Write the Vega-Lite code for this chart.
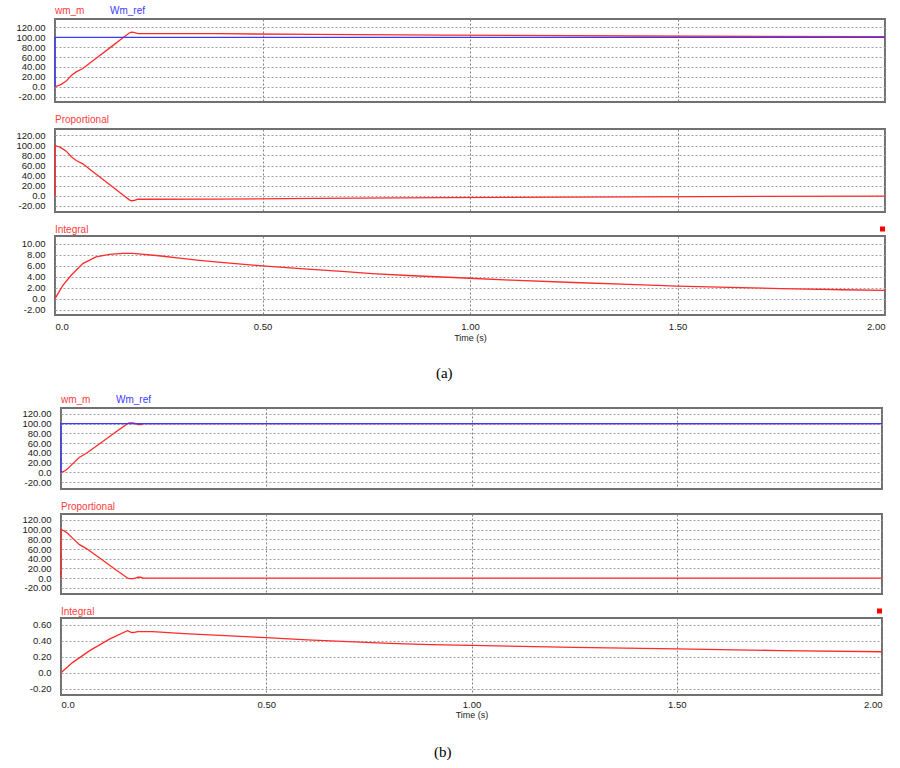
{
  "$schema": "https://vega.github.io/schema/vega-lite/v6.json",
  "background": "white",
  "padding": {"left": 0, "top": 5, "right": 0, "bottom": 0},
  "spacing": 13,
  "columns": 1,
  "align": "none",
  "datasets": {
    "a1": [
      {"i": 0, "s": "wm_m", "t": 0, "v": 0},
      {"i": 1, "s": "wm_m", "t": 0.008, "v": 2},
      {"i": 2, "s": "wm_m", "t": 0.015, "v": 4.7},
      {"i": 3, "s": "wm_m", "t": 0.027, "v": 11.3},
      {"i": 4, "s": "wm_m", "t": 0.04, "v": 23},
      {"i": 5, "s": "wm_m", "t": 0.051, "v": 30},
      {"i": 6, "s": "wm_m", "t": 0.067, "v": 36.7},
      {"i": 7, "s": "wm_m", "t": 0.1, "v": 57.9},
      {"i": 8, "s": "wm_m", "t": 0.14, "v": 83.6},
      {"i": 9, "s": "wm_m", "t": 0.163, "v": 98.4},
      {"i": 10, "s": "wm_m", "t": 0.179, "v": 108.7},
      {"i": 11, "s": "wm_m", "t": 0.184, "v": 110.5},
      {"i": 12, "s": "wm_m", "t": 0.19, "v": 110},
      {"i": 13, "s": "wm_m", "t": 0.2, "v": 107.5},
      {"i": 14, "s": "wm_m", "t": 0.388, "v": 107.2},
      {"i": 15, "s": "wm_m", "t": 0.626, "v": 105.8},
      {"i": 16, "s": "wm_m", "t": 0.94, "v": 104.2},
      {"i": 17, "s": "wm_m", "t": 1.404, "v": 102.6},
      {"i": 18, "s": "wm_m", "t": 2.0, "v": 101.3},
      {"i": 0, "s": "Wm_ref", "t": 0, "v": 0},
      {"i": 1, "s": "Wm_ref", "t": 0, "v": 100},
      {"i": 2, "s": "Wm_ref", "t": 2.0, "v": 100}
    ],
    "a2": [
      {"i": 0, "t": 0, "v": 0},
      {"i": 1, "t": 0, "v": 100},
      {"i": 2, "t": 0.008, "v": 98},
      {"i": 3, "t": 0.015, "v": 95.3},
      {"i": 4, "t": 0.027, "v": 88.7},
      {"i": 5, "t": 0.04, "v": 77},
      {"i": 6, "t": 0.051, "v": 70},
      {"i": 7, "t": 0.067, "v": 63.3},
      {"i": 8, "t": 0.1, "v": 42.1},
      {"i": 9, "t": 0.14, "v": 16.4},
      {"i": 10, "t": 0.163, "v": 1.6},
      {"i": 11, "t": 0.179, "v": -8.7},
      {"i": 12, "t": 0.184, "v": -10.5},
      {"i": 13, "t": 0.19, "v": -10},
      {"i": 14, "t": 0.2, "v": -7.5},
      {"i": 15, "t": 0.388, "v": -7.2},
      {"i": 16, "t": 0.626, "v": -5.8},
      {"i": 17, "t": 0.94, "v": -4.2},
      {"i": 18, "t": 1.404, "v": -2.6},
      {"i": 19, "t": 2.0, "v": -1.3}
    ],
    "a3": [
      {"t": 0, "v": 0},
      {"t": 0.019, "v": 2.4},
      {"t": 0.039, "v": 4.24},
      {"t": 0.067, "v": 6.36},
      {"t": 0.099, "v": 7.58},
      {"t": 0.131, "v": 8.05},
      {"t": 0.163, "v": 8.24},
      {"t": 0.187, "v": 8.22},
      {"t": 0.25, "v": 7.8},
      {"t": 0.3, "v": 7.35},
      {"t": 0.348, "v": 6.97},
      {"t": 0.4, "v": 6.6},
      {"t": 0.5, "v": 5.94},
      {"t": 0.6, "v": 5.4},
      {"t": 0.7, "v": 4.9},
      {"t": 0.764, "v": 4.55},
      {"t": 0.85, "v": 4.2},
      {"t": 1.0, "v": 3.7},
      {"t": 1.1, "v": 3.35},
      {"t": 1.25, "v": 2.92},
      {"t": 1.4, "v": 2.52},
      {"t": 1.5, "v": 2.28},
      {"t": 1.6, "v": 2.08},
      {"t": 1.75, "v": 1.82},
      {"t": 1.9, "v": 1.6},
      {"t": 2.0, "v": 1.48}
    ],
    "b1": [
      {"i": 0, "s": "wm_m", "t": 0, "v": 0},
      {"i": 1, "s": "wm_m", "t": 0.008, "v": 2.5},
      {"i": 2, "s": "wm_m", "t": 0.016, "v": 7.3},
      {"i": 3, "s": "wm_m", "t": 0.03, "v": 19},
      {"i": 4, "s": "wm_m", "t": 0.045, "v": 31},
      {"i": 5, "s": "wm_m", "t": 0.061, "v": 38.6},
      {"i": 6, "s": "wm_m", "t": 0.1, "v": 62.3},
      {"i": 7, "s": "wm_m", "t": 0.13, "v": 80.6},
      {"i": 8, "s": "wm_m", "t": 0.162, "v": 100},
      {"i": 9, "s": "wm_m", "t": 0.166, "v": 101.3},
      {"i": 10, "s": "wm_m", "t": 0.176, "v": 101.3},
      {"i": 11, "s": "wm_m", "t": 0.183, "v": 99.5},
      {"i": 12, "s": "wm_m", "t": 0.187, "v": 98.2},
      {"i": 13, "s": "wm_m", "t": 0.196, "v": 98.2},
      {"i": 14, "s": "wm_m", "t": 0.2, "v": 100},
      {"i": 15, "s": "wm_m", "t": 2.0, "v": 100},
      {"i": 0, "s": "Wm_ref", "t": 0, "v": 0},
      {"i": 1, "s": "Wm_ref", "t": 0, "v": 100},
      {"i": 2, "s": "Wm_ref", "t": 2.0, "v": 100}
    ],
    "b2": [
      {"i": 0, "t": 0, "v": 0},
      {"i": 1, "t": 0, "v": 100},
      {"i": 2, "t": 0.008, "v": 97.5},
      {"i": 3, "t": 0.016, "v": 92.7},
      {"i": 4, "t": 0.03, "v": 81},
      {"i": 5, "t": 0.045, "v": 69},
      {"i": 6, "t": 0.061, "v": 61.4},
      {"i": 7, "t": 0.1, "v": 37.7},
      {"i": 8, "t": 0.13, "v": 19.4},
      {"i": 9, "t": 0.162, "v": 0},
      {"i": 10, "t": 0.166, "v": -1.3},
      {"i": 11, "t": 0.176, "v": -1.3},
      {"i": 12, "t": 0.183, "v": 0.5},
      {"i": 13, "t": 0.187, "v": 1.6},
      {"i": 14, "t": 0.194, "v": 1.6},
      {"i": 15, "t": 0.2, "v": 0},
      {"i": 16, "t": 2.0, "v": 0}
    ],
    "b3": [
      {"t": 0, "v": 0},
      {"t": 0.028, "v": 0.126},
      {"t": 0.069, "v": 0.273},
      {"t": 0.118, "v": 0.42},
      {"t": 0.162, "v": 0.525},
      {"t": 0.172, "v": 0.503},
      {"t": 0.179, "v": 0.504},
      {"t": 0.187, "v": 0.513},
      {"t": 0.223, "v": 0.513},
      {"t": 0.3, "v": 0.49},
      {"t": 0.4, "v": 0.465},
      {"t": 0.5, "v": 0.438},
      {"t": 0.6, "v": 0.412},
      {"t": 0.7, "v": 0.388},
      {"t": 0.8, "v": 0.366},
      {"t": 0.9, "v": 0.352},
      {"t": 1.0, "v": 0.342},
      {"t": 1.25, "v": 0.318},
      {"t": 1.5, "v": 0.298},
      {"t": 1.75, "v": 0.277},
      {"t": 2.0, "v": 0.262}
    ]
  },
  "resolve": {"scale": {"x": "independent", "y": "independent", "color": "independent"}, "legend": {"color": "independent"}},
  "concat": [
    {
      "title": {"text": "(a)", "orient": "bottom", "anchor": "middle", "frame": "bounds", "font": "Liberation Serif", "fontSize": 15, "fontWeight": "normal", "color": "#000000", "offset": 22},
      "spacing": 11,
      "resolve": {"scale": {"x": "independent", "y": "independent", "color": "independent"}, "legend": {"color": "independent"}},
      "vconcat": [
        {
          "width": 830, "height": 83,
          "data": {"name": "a1"},
          "encoding": {
            "x": {"field": "t", "type": "quantitative", "scale": {"domain": [0, 2], "nice": false, "zero": false}, "axis": {"labels": false, "title": null, "values": [0, 0.5, 1, 1.5, 2], "gridColor": "#808080"}},
            "y": {"field": "v", "type": "quantitative", "scale": {"domain": [-31, 137], "nice": false, "zero": false}, "axis": {"title": null, "values": [-20, 0, 20, 40, 60, 80, 100, 120], "labelExpr": "datum.value == 0 ? '0.0' : replace(format(datum.value, '.2f'), '\u2212', '-')", "minExtent": 54, "maxExtent": 54}},
            "color": {"field": "s", "type": "nominal", "scale": {"domain": ["wm_m", "Wm_ref"], "range": ["#ff2a2a", "#3a3aff"]},
              "legend": {"orient": "top", "direction": "horizontal", "title": null, "symbolSize": 0, "symbolOpacity": 0, "symbolStrokeWidth": 0, "labelOffset": -10, "columnPadding": 25, "offset": 3, "padding": 0, "labelFont": "Liberation Sans", "labelFontSize": 10,
                "encode": {"labels": {"update": {"fill": {"signal": "datum.value === 'wm_m' ? '#ff3b3b' : '#3b3bff'"}}}}}},
            "order": {"field": "i", "type": "quantitative"}
          },
          "layer": [
            {"transform": [{"filter": "datum.s === 'wm_m'"}], "mark": {"type": "line", "strokeWidth": 1.3}},
            {"transform": [{"filter": "datum.s === 'Wm_ref'"}], "mark": {"type": "line", "strokeWidth": 1.3}}
          ]
        },
        {
          "width": 830, "height": 83,
          "title": {"text": "Proportional"},
          "data": {"name": "a2"},
          "mark": {"type": "line", "strokeWidth": 1.3, "color": "#ff2a2a"},
          "encoding": {
            "x": {"field": "t", "type": "quantitative", "scale": {"domain": [0, 2], "nice": false, "zero": false}, "axis": {"labels": false, "title": null, "values": [0, 0.5, 1, 1.5, 2], "gridColor": "#808080"}},
            "y": {"field": "v", "type": "quantitative", "scale": {"domain": [-33, 133], "nice": false, "zero": false}, "axis": {"title": null, "values": [-20, 0, 20, 40, 60, 80, 100, 120], "labelExpr": "datum.value == 0 ? '0.0' : replace(format(datum.value, '.2f'), '\u2212', '-')", "minExtent": 54, "maxExtent": 54}},
            "order": {"field": "i", "type": "quantitative"}
          }
        },
        {
          "width": 830, "height": 79,
          "title": {"text": "Integral", "offset": -8.5},
          "data": {"name": "a3"},
          "mark": {"type": "line", "strokeWidth": 1.3, "color": "#ff2a2a"},
          "encoding": {
            "x": {"field": "t", "type": "quantitative", "scale": {"domain": [0, 2], "nice": false, "zero": false}, "axis": {"title": "Time (s)", "values": [0, 0.5, 1, 1.5, 2], "gridColor": "#808080", "labelExpr": "datum.value == 0 ? '0.0' : format(datum.value, '.2f')", "labelFlush": true, "labelPadding": 6, "titlePadding": 3}},
            "y": {"field": "v", "type": "quantitative", "scale": {"domain": [-3, 11.4], "nice": false, "zero": false}, "axis": {"title": null, "values": [-2, 0, 2, 4, 6, 8, 10], "labelExpr": "datum.value == 0 ? '0.0' : replace(format(datum.value, '.2f'), '\u2212', '-')", "minExtent": 54, "maxExtent": 54}},
            "color": {"datum": "Integral", "type": "nominal", "scale": {"domain": ["Integral"], "range": ["#ff2a2a"]},
              "legend": {"orient": "none", "legendX": 825, "legendY": -9.5, "title": null, "symbolType": "square", "symbolSize": 25, "labelExpr": "''", "labelFontSize": 1, "labelOffset": 0, "padding": 0,
                "encode": {"symbols": {"update": {"fill": {"value": "#ff0000"}, "stroke": {"value": "#ff0000"}, "strokeWidth": {"value": 0}, "opacity": {"value": 1}}}}}}
          }
        }
      ]
    },
    {
      "spacing": -56,
      "resolve": {"scale": {"x": "independent", "y": "independent", "color": "independent"}, "legend": {"color": "independent"}},
      "hconcat": [
        {
          "width": 1, "height": 1,
          "view": {"stroke": null},
          "data": {"values": []},
          "mark": "point",
          "encoding": {}
        },
        {
          "title": {"text": "(b)", "orient": "bottom", "anchor": "middle", "frame": "bounds", "font": "Liberation Serif", "fontSize": 15, "fontWeight": "normal", "color": "#000000", "offset": 24},
          "spacing": 11,
          "resolve": {"scale": {"x": "independent", "y": "independent", "color": "independent"}, "legend": {"color": "independent"}},
          "vconcat": [
            {
              "width": 821, "height": 81,
              "data": {"name": "b1"},
              "encoding": {
                "x": {"field": "t", "type": "quantitative", "scale": {"domain": [0, 2], "nice": false, "zero": false}, "axis": {"labels": false, "title": null, "values": [0, 0.5, 1, 1.5, 2], "gridColor": "#808080"}},
                "y": {"field": "v", "type": "quantitative", "scale": {"domain": [-34, 132], "nice": false, "zero": false}, "axis": {"title": null, "values": [-20, 0, 20, 40, 60, 80, 100, 120], "labelExpr": "datum.value == 0 ? '0.0' : replace(format(datum.value, '.2f'), '\u2212', '-')", "minExtent": 60, "maxExtent": 60}},
                "color": {"field": "s", "type": "nominal", "scale": {"domain": ["wm_m", "Wm_ref"], "range": ["#ff2a2a", "#3a3aff"]},
                  "legend": {"orient": "top", "direction": "horizontal", "title": null, "symbolSize": 0, "symbolOpacity": 0, "symbolStrokeWidth": 0, "labelOffset": -10, "columnPadding": 25, "offset": 3, "padding": 0, "labelFont": "Liberation Sans", "labelFontSize": 10,
                    "encode": {"labels": {"update": {"fill": {"signal": "datum.value === 'wm_m' ? '#ff3b3b' : '#3b3bff'"}}}}}},
                "order": {"field": "i", "type": "quantitative"}
              },
              "layer": [
                {"transform": [{"filter": "datum.s === 'wm_m'"}], "mark": {"type": "line", "strokeWidth": 1.3}},
                {"transform": [{"filter": "datum.s === 'Wm_ref'"}], "mark": {"type": "line", "strokeWidth": 1.3}}
              ]
            },
            {
              "width": 821, "height": 80,
              "title": {"text": "Proportional", "offset": 2},
              "data": {"name": "b2"},
              "mark": {"type": "line", "strokeWidth": 1.3, "color": "#ff2a2a"},
              "encoding": {
                "x": {"field": "t", "type": "quantitative", "scale": {"domain": [0, 2], "nice": false, "zero": false}, "axis": {"labels": false, "title": null, "values": [0, 0.5, 1, 1.5, 2], "gridColor": "#808080"}},
                "y": {"field": "v", "type": "quantitative", "scale": {"domain": [-33, 132.4], "nice": false, "zero": false}, "axis": {"title": null, "values": [-20, 0, 20, 40, 60, 80, 100, 120], "labelExpr": "datum.value == 0 ? '0.0' : replace(format(datum.value, '.2f'), '\u2212', '-')", "minExtent": 60, "maxExtent": 60}},
                "order": {"field": "i", "type": "quantitative"}
              }
            },
            {
              "width": 821, "height": 77,
              "title": {"text": "Integral", "offset": -8.5},
              "data": {"name": "b3"},
              "mark": {"type": "line", "strokeWidth": 1.3, "color": "#ff2a2a"},
              "encoding": {
                "x": {"field": "t", "type": "quantitative", "scale": {"domain": [0, 2], "nice": false, "zero": false}, "axis": {"title": "Time (s)", "values": [0, 0.5, 1, 1.5, 2], "gridColor": "#808080", "labelExpr": "datum.value == 0 ? '0.0' : format(datum.value, '.2f')", "labelFlush": true, "labelPadding": 4, "titlePadding": 2}},
                "y": {"field": "v", "type": "quantitative", "scale": {"domain": [-0.28, 0.685], "nice": false, "zero": false}, "axis": {"title": null, "values": [-0.2, 0, 0.2, 0.4, 0.6], "labelExpr": "datum.value == 0 ? '0.0' : replace(format(datum.value, '.2f'), '\u2212', '-')", "minExtent": 60, "maxExtent": 60}},
                "color": {"datum": "Integral", "type": "nominal", "scale": {"domain": ["Integral"], "range": ["#ff2a2a"]},
                  "legend": {"orient": "none", "legendX": 816, "legendY": -9.5, "title": null, "symbolType": "square", "symbolSize": 25, "labelExpr": "''", "labelFontSize": 1, "labelOffset": 0, "padding": 0,
                    "encode": {"symbols": {"update": {"fill": {"value": "#ff0000"}, "stroke": {"value": "#ff0000"}, "strokeWidth": {"value": 0}, "opacity": {"value": 1}}}}}}
              }
            }
          ]
        }
      ]
    }
  ],
  "config": {
    "view": {"stroke": "#707070", "strokeWidth": 2},
    "axis": {"labelFont": "Liberation Sans", "labelFontSize": 9.5, "labelColor": "#1a1a1a", "labelOverlap": false, "titleFont": "Liberation Sans", "titleFontSize": 9, "titleFontWeight": "normal", "titleColor": "#222222", "gridColor": "#a0a0a0", "gridDash": [2, 2], "gridWidth": 1, "grid": true, "domain": false, "ticks": false},
    "axisY": {"labelPadding": 10},
    "title": {"font": "Liberation Sans", "fontSize": 10, "fontWeight": "normal", "color": "#ff3b3b", "anchor": "start", "frame": "group", "offset": 4}
  }
}
